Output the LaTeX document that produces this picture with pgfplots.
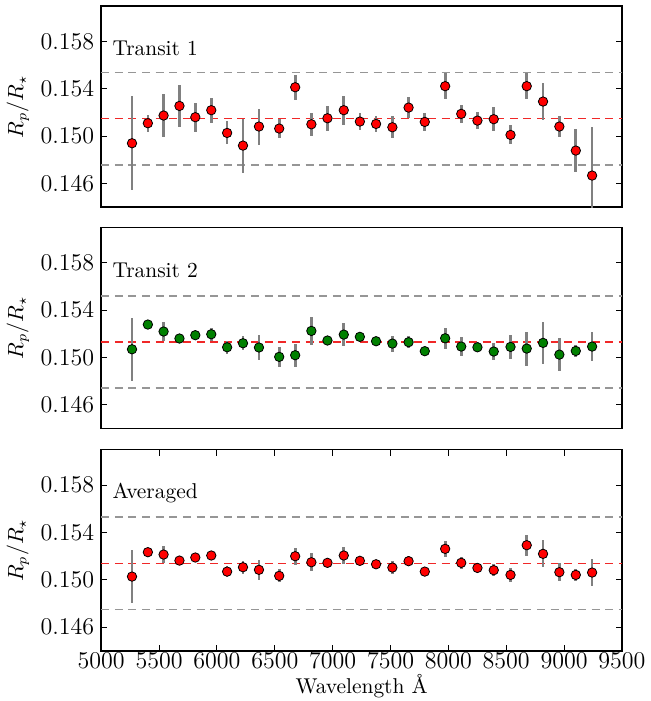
\documentclass[border=0pt]{standalone}
\usepackage{pgfplots}
\pgfplotsset{compat=1.18}
\usepackage{pgfplotstable}
\definecolor{errgray}{RGB}{128,128,128}
\definecolor{dashgray}{RGB}{150,150,150}
\definecolor{dashred}{RGB}{240,40,40}
\definecolor{mgreen}{RGB}{0,128,0}

\pgfplotstableread{
w r e
5266 0.14941 0.00396
5403 0.15110 0.00073
5539 0.15175 0.00182
5676 0.15256 0.00175
5813 0.15161 0.00124
5951 0.15220 0.00107
6088 0.15028 0.00097
6225 0.14921 0.00228
6363 0.15082 0.00152
6538 0.15065 0.00080
6676 0.15414 0.00107
6816 0.15101 0.00097
6955 0.15152 0.00107
7096 0.15220 0.00124
7235 0.15124 0.00070
7375 0.15104 0.00069
7516 0.15076 0.00093
7656 0.15242 0.00087
7796 0.15121 0.00073
7972 0.15423 0.00108
8111 0.15189 0.00075
8251 0.15132 0.00072
8392 0.15144 0.00101
8537 0.15011 0.00080
8677 0.15423 0.00111
8818 0.15293 0.00154
8959 0.15082 0.00089
9101 0.14879 0.00180
9242 0.14668 0.00411
}\dataA

\pgfplotstableread{
w r e
5266 0.15070 0.00266
5403 0.15279 0.00034
5539 0.15220 0.00079
5676 0.15161 0.00020
5813 0.15189 0.00030
5951 0.15197 0.00054
6088 0.15087 0.00054
6225 0.15121 0.00059
6363 0.15085 0.00107
6538 0.15006 0.00085
6676 0.15020 0.00096
6816 0.15225 0.00118
6955 0.15144 0.00040
7096 0.15194 0.00100
7235 0.15175 0.00042
7375 0.15138 0.00030
7516 0.15118 0.00068
7656 0.15130 0.00050
7796 0.15054 0.00030
7972 0.15163 0.00087
8111 0.15093 0.00080
8251 0.15087 0.00042
8392 0.15051 0.00072
8537 0.15090 0.00100
8677 0.15076 0.00144
8818 0.15124 0.00175
8959 0.15025 0.00137
9101 0.15056 0.00052
9242 0.15093 0.00120
}\dataB

\pgfplotstableread{
w r e
5266 0.15028 0.00221
5403 0.15234 0.00030
5539 0.15214 0.00073
5676 0.15163 0.00030
5813 0.15189 0.00030
5951 0.15206 0.00037
6088 0.15070 0.00046
6225 0.15107 0.00056
6363 0.15085 0.00086
6538 0.15034 0.00056
6676 0.15200 0.00072
6816 0.15149 0.00076
6955 0.15144 0.00030
7096 0.15206 0.00076
7235 0.15161 0.00030
7375 0.15132 0.00030
7516 0.15104 0.00056
7656 0.15158 0.00040
7796 0.15070 0.00030
7972 0.15262 0.00068
8111 0.15144 0.00052
8251 0.15101 0.00035
8392 0.15082 0.00050
8537 0.15042 0.00060
8677 0.15293 0.00089
8818 0.15220 0.00114
8959 0.15065 0.00075
9101 0.15042 0.00050
9242 0.15062 0.00114
}\dataC

\tikzset{lab/.style={anchor=west, inner sep=0pt, font=\fontsize{10.7}{13}\selectfont}}

\pgfplotsset{
  panel/.style={
    scale only axis, width=260pt, height=100.5pt,
    xmin=5000, xmax=9500, ymin=0.144, ymax=0.161,
    ytick={0.146,0.150,0.154,0.158},
    scaled y ticks=false, scaled x ticks=false,
    yticklabel style={/pgf/number format/.cd,fixed,fixed zerofill,precision=3,/tikz/.cd},
    xticklabel style={/pgf/number format/.cd,1000 sep={},/tikz/.cd, anchor=base, inner sep=0pt, yshift=-9pt},
    tick align=inside,
    major tick length=3pt,
    tick style={black, line width=0.5pt},
    axis line style={line width=0.8pt},
    ticklabel style={font=\fontsize{11.7}{14}\selectfont},
    label style={font=\fontsize{10.7}{13}\selectfont},
    ylabel={$R_p/R_\star$},
    ylabel style={at={(axis description cs:-0.16,0.5)}, anchor=center},
    xlabel style={at={(axis description cs:0.5,0)}, anchor=base, inner sep=0pt, yshift=-21.5pt},
  },
  errs/.style={only marks, mark=none, error bars/.cd, y dir=both, y explicit, error mark=none,
    error bar style={line width=1.35pt, color=errgray}},
  pts/.style={only marks, mark=*, mark size=2.35pt, mark options={fill=#1, draw=black, line width=0.4pt}},
  rline/.style={dashred, line width=0.8pt, dash pattern=on 4pt off 2.8pt},
  gline/.style={dashgray, line width=0.8pt, dash pattern=on 4pt off 2.8pt},
}

\begin{document}
\begin{tikzpicture}
\begin{axis}[panel, name=p1, at={(0,0)}, anchor=north west, xtick=\empty]
\addplot[gline] coordinates {(5000,0.15538) (9500,0.15538)};
\addplot[gline] coordinates {(5000,0.14758) (9500,0.14758)};
\addplot[rline] coordinates {(5000,0.15149) (9500,0.15149)};
\addplot[errs] table[x=w, y=r, y error=e]{\dataA};
\addplot[pts=red] table[x=w, y=r]{\dataA};
\node[lab] at (rel axis cs:0.021,0.79) {Transit 1};
\end{axis}

\begin{axis}[panel, name=p2, at={(0,-110.5pt)}, anchor=north west, xtick=\empty]
\addplot[gline] coordinates {(5000,0.15521) (9500,0.15521)};
\addplot[gline] coordinates {(5000,0.14744) (9500,0.14744)};
\addplot[rline] coordinates {(5000,0.15132) (9500,0.15132)};
\addplot[errs] table[x=w, y=r, y error=e]{\dataB};
\addplot[pts=mgreen] table[x=w, y=r]{\dataB};
\node[lab] at (rel axis cs:0.021,0.785) {Transit 2};
\end{axis}

\begin{axis}[panel, name=p3, at={(0,-221.5pt)}, anchor=north west,
  xtick={5000,5500,...,9500}, xlabel={Wavelength \AA}]
\addplot[gline] coordinates {(5000,0.15530) (9500,0.15530)};
\addplot[gline] coordinates {(5000,0.14749) (9500,0.14749)};
\addplot[rline] coordinates {(5000,0.15138) (9500,0.15138)};
\addplot[errs] table[x=w, y=r, y error=e]{\dataC};
\addplot[pts=red] table[x=w, y=r]{\dataC};
\node[lab] at (rel axis cs:0.021,0.785) {Averaged};
\end{axis}

\path (p1.north west) ++(-50pt,3pt) coordinate (bbA);
\path (p3.south east) ++(14pt,-25pt) coordinate (bbB);
\end{tikzpicture}
\end{document}
